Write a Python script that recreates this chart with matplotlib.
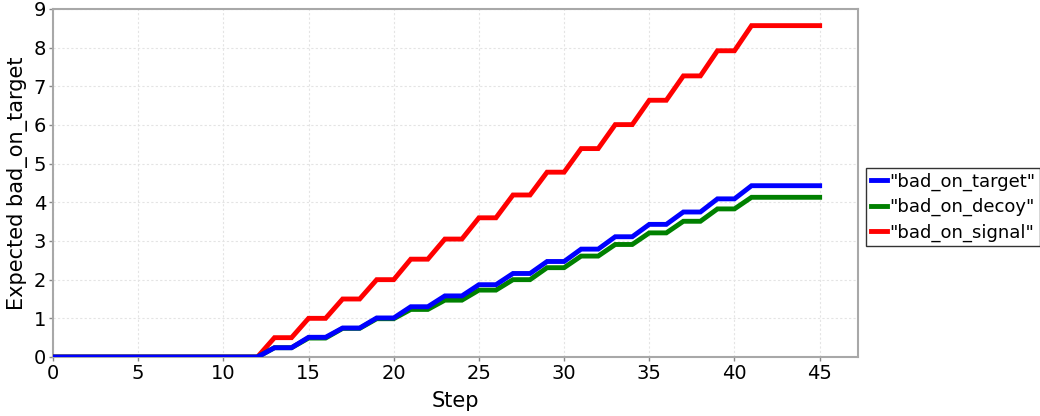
import matplotlib
matplotlib.use("Agg")
import matplotlib.pyplot as plt
import numpy as np

# Expected values per step
steps = list(range(0, 46))

bad_on_target = [0.0] * 13 + [0.24, 0.24, 0.51, 0.51, 0.75, 0.75, 1.01, 1.01, 1.30, 1.30,
                              1.58, 1.58, 1.87, 1.87, 2.16, 2.16, 2.47, 2.47, 2.79, 2.79,
                              3.11, 3.11, 3.43, 3.43, 3.75, 3.75, 4.09, 4.09,
                              4.43, 4.43, 4.43, 4.43, 4.43]
bad_on_decoy = [0.0] * 13 + [0.24, 0.24, 0.49, 0.49, 0.74, 0.74, 0.99, 0.99, 1.23, 1.23,
                             1.47, 1.47, 1.73, 1.73, 2.00, 2.00, 2.31, 2.31, 2.61, 2.61,
                             2.91, 2.91, 3.21, 3.21, 3.51, 3.51, 3.83, 3.83,
                             4.13, 4.13, 4.13, 4.13, 4.13]
bad_on_signal = [0.0] * 13 + [0.50, 0.50, 1.00, 1.00, 1.50, 1.50, 2.00, 2.00, 2.53, 2.53,
                              3.05, 3.05, 3.60, 3.60, 4.19, 4.19, 4.78, 4.78, 5.39, 5.39,
                              6.01, 6.01, 6.64, 6.64, 7.27, 7.27, 7.92, 7.92,
                              8.57, 8.57, 8.57, 8.57, 8.57]

series_labels = ['"bad_on_target"', '"bad_on_decoy"', '"bad_on_signal"']
series_colors = ['#0000ff', '#008000', '#ff0000']

fig = plt.figure(figsize=(10.4, 4.16), dpi=100)
ax = fig.add_axes([53 / 1040, 1 - 357 / 416, (858 - 53) / 1040, (357 - 9) / 416])

data = [bad_on_target, bad_on_decoy, bad_on_signal]
for i, (vals, lab, col) in enumerate(zip(data, series_labels, series_colors)):
    ax.plot(steps, vals, color=col, lw=3.5, label=lab, zorder=5 - i,
            solid_joinstyle='miter')

ax.set_xlim(0, 47.25)
ax.set_ylim(0, 9)
ax.set_xticks(range(0, 46, 5))
ax.set_yticks(range(0, 10))
ax.grid(True, color='#e4e4e4', linestyle=(0, (2, 2)), linewidth=0.8)
ax.set_axisbelow(True)

for s in ax.spines.values():
    s.set_color('#a8a8a8')
    s.set_linewidth(1.5)
ax.tick_params(axis='both', labelsize=14, length=3, width=1, color='#888888', pad=2)

ax.set_xlabel('Step', fontsize=15, labelpad=6)
ax.set_ylabel('Expected bad_on_target', fontsize=15, labelpad=4)

leg = ax.legend(loc='center left', bbox_to_anchor=(1.01, 0.431), fontsize=13,
                frameon=True, fancybox=False, handlelength=0.9, handletextpad=0.15,
                borderpad=0.25, labelspacing=0.4, borderaxespad=0)
leg.get_frame().set_edgecolor('#000000')
leg.get_frame().set_linewidth(1.0)

fig.savefig('out.png', dpi=100)
